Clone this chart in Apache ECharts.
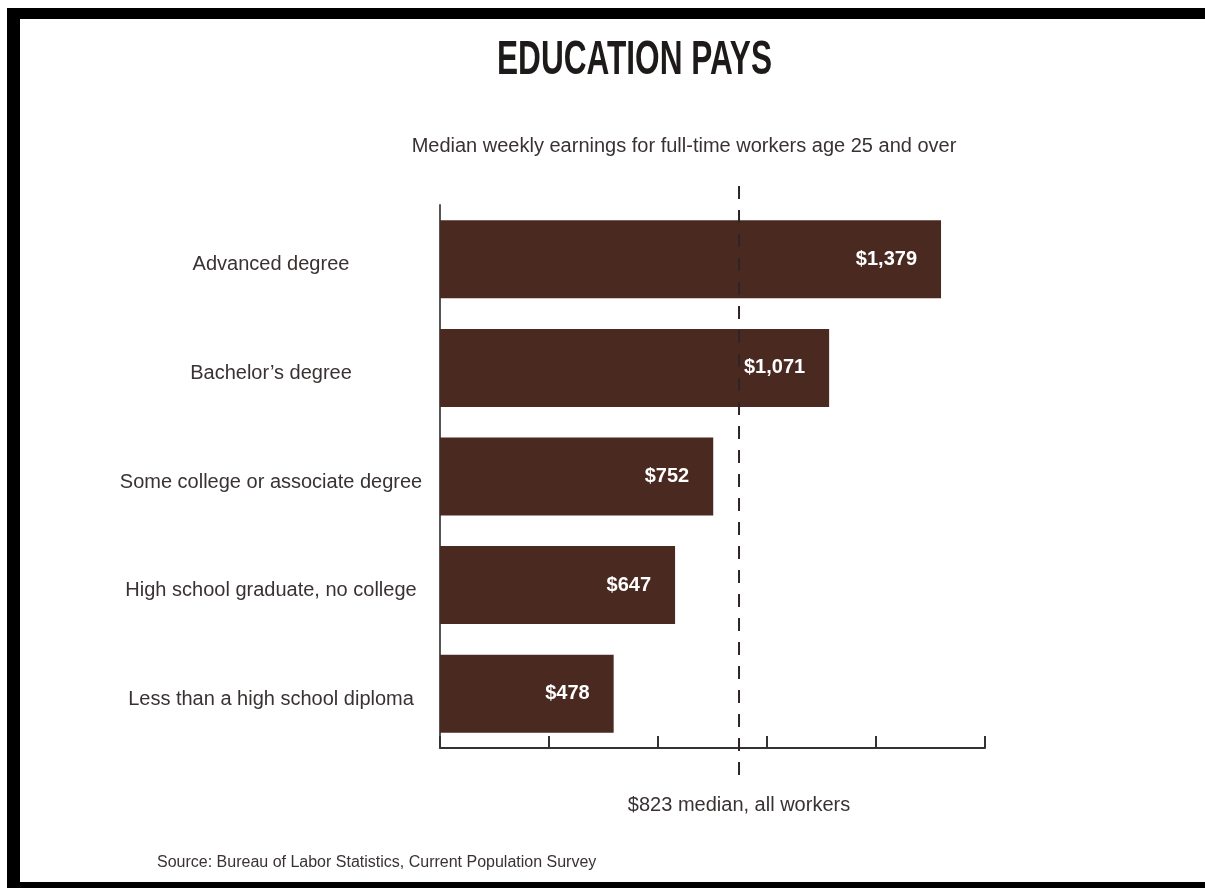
<!DOCTYPE html>
<html>
<head>
<meta charset="utf-8">
<script src="https://cdn.jsdelivr.net/npm/echarts@6/dist/echarts.min.js"></script>
<style>
  html, body { margin: 0; padding: 0; background: #fff; }
  #chart { width: 1205px; height: 888px; }
</style>
</head>
<body>
<div id="chart"></div>
<script>
const categories = [
  "Advanced degree",
  "Bachelor\u2019s degree",
  "Some college or associate degree",
  "High school graduate, no college",
  "Less than a high school diploma"
];
const earnings = [1379, 1071, 752, 647, 478];
const barLabels = ["$1,379", "$1,071", "$752", "$647", "$478"];
const xTicks = [0, 300, 600, 900, 1200, 1500];
const medianValue = 823;
const medianLabel = "$823 median, all workers";
const titleText = "EDUCATION PAYS";
const subtitleText = "Median weekly earnings for full-time workers age 25 and over";
const sourceText = "Source: Bureau of Labor Statistics, Current Population Survey";

const BAR = "#4a2921";
const TXT = "#3a3232";
const FONT = "'Liberation Sans', Arial, sans-serif";

const chart = echarts.init(document.getElementById('chart'), null, { renderer: 'canvas' });

// horizontal squeeze for the condensed title
const TITLE_FONT = "bold 48px 'Liberation Sans', Arial, sans-serif";
const mctx = document.createElement('canvas').getContext('2d');
mctx.font = TITLE_FONT;
const titleW = mctx.measureText(titleText).width;
const titleScale = 275 / titleW;

const option = {
  backgroundColor: '#ffffff',
  animation: false,
  grid: { left: 440, top: 205, width: 545, height: 543, containLabel: false },
  xAxis: {
    type: 'value', min: xTicks[0], max: xTicks[xTicks.length - 1], interval: xTicks[1] - xTicks[0],
    axisLine: { show: true, lineStyle: { color: '#333', width: 2 } },
    axisTick: { show: true, inside: true, length: 12, lineStyle: { color: '#333', width: 2 } },
    axisLabel: { show: false },
    splitLine: { show: false }
  },
  yAxis: {
    type: 'category', data: categories, inverse: true,
    axisLine: { show: true, lineStyle: { color: '#555', width: 2 } },
    axisTick: { show: false },
    axisLabel: {
      margin: 169, align: 'center', verticalAlign: 'top', lineHeight: 11,
      fontFamily: FONT, fontSize: 20, color: TXT
    }
  },
  series: [{
    type: 'bar',
    data: earnings,
    barWidth: 78,
    itemStyle: { color: BAR },
    label: {
      show: true, position: 'insideRight', distance: 24,
      formatter: p => barLabels[p.dataIndex],
      fontFamily: FONT, fontWeight: 'bold', fontSize: 20, color: '#ffffff'
    },
    z: 2
  }]
};
chart.setOption(option);

const mx = chart.convertToPixel({ xAxisIndex: 0 }, medianValue);
chart.setOption({
  graphic: [
    // frame
    { type: 'rect', shape: { x: 7, y: 8, width: 1198, height: 11 }, style: { fill: '#000' }, z: 100 },
    { type: 'rect', shape: { x: 7, y: 8, width: 13, height: 876 }, style: { fill: '#000' }, z: 100 },
    { type: 'rect', shape: { x: 7, y: 882, width: 1198, height: 6 }, style: { fill: '#000' }, z: 100 },
    // title
    { type: 'text', x: 634.5, y: 60.5, scaleX: titleScale, scaleY: 1,
      style: { text: titleText, align: 'center', verticalAlign: 'middle', font: TITLE_FONT, fill: '#1e1a1a' }, z: 50 },
    { type: 'text', x: 684, y: 146,
      style: { text: subtitleText, align: 'center', verticalAlign: 'middle',
        font: "20px 'Liberation Sans', Arial, sans-serif", fill: TXT }, z: 50 },
    { type: 'text', x: 157, y: 863,
      style: { text: sourceText, align: 'left', verticalAlign: 'middle',
        font: "16px 'Liberation Sans', Arial, sans-serif", fill: TXT }, z: 50 },
    // median dashed line
    { type: 'line', shape: { x1: mx, y1: 186, x2: mx, y2: 778 },
      style: { stroke: '#2e2626', lineWidth: 2, lineDash: [13, 11] }, z: 50 },
    { type: 'text', x: mx, y: 805, style: { text: medianLabel, align: 'center', verticalAlign: 'middle',
      font: "20px 'Liberation Sans', Arial, sans-serif", fill: TXT }, z: 50 }
  ]
});
</script>
</body>
</html>
